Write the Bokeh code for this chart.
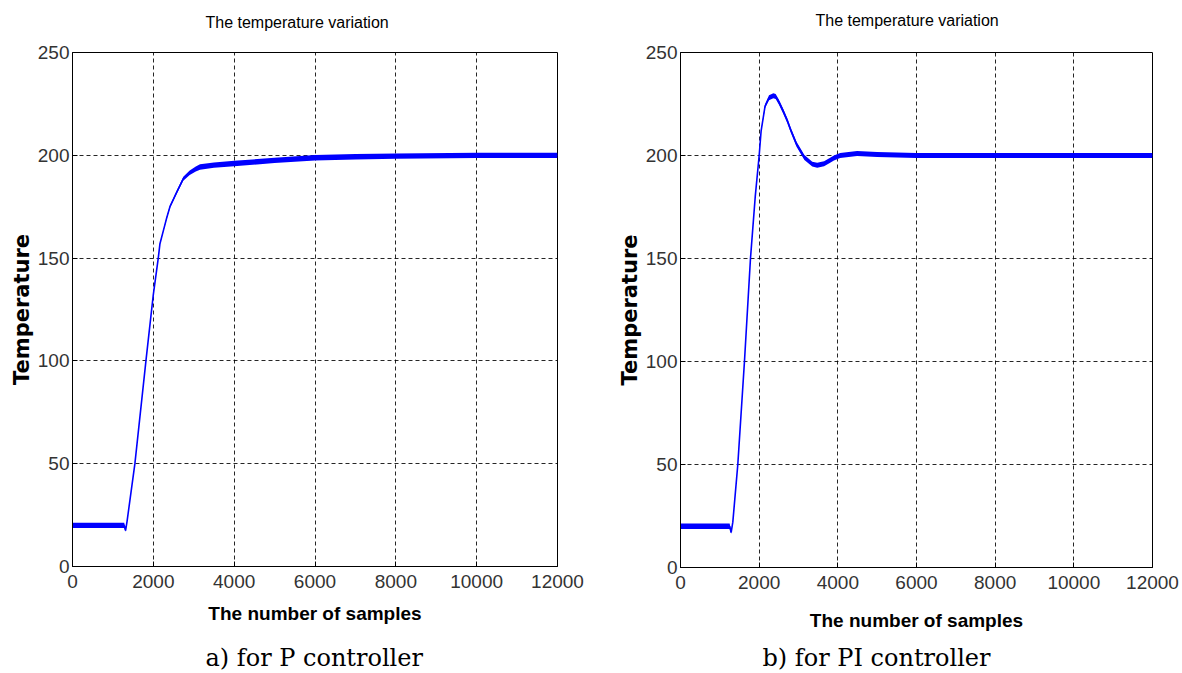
from bokeh.plotting import figure
from bokeh.models import Range1d, Label, FixedTicker
from bokeh.layouts import row, column
from bokeh.embed import file_html
from bokeh.resources import INLINE
import numpy as np

# ---------------- data ----------------
x_ticks = [0, 2000, 4000, 6000, 8000, 10000, 12000]
y_ticks = [0, 50, 100, 150, 200, 250]

# a) P controller
p_x = [0, 1280, 1313, 1350, 1544, 1817, 1998, 2122, 2164, 2250, 2330, 2411, 2577,
       2741, 2900, 3050, 3155, 3500, 4000, 5000, 6000, 7000, 8000, 10000, 12000]
p_y = [20, 20, 17.5, 22, 50, 100, 132, 150, 157, 163.5, 169.5, 175, 182,
       188.6, 191.5, 193.3, 194.3, 195.2, 196, 197.5, 198.8, 199.3, 199.6, 200, 200]
p_noise = [1.3, 1.3, 0.6, 0, 0, 0, 0, 0, 0.2, 0.3, 0.5, 0.6, 0.8,
           1.0, 1.1, 1.2, 1.3, 1.3, 1.3, 1.3, 1.3, 1.3, 1.3, 1.3, 1.3]

# b) PI controller
pi_x = [0, 1250, 1288, 1330, 1457, 1626, 1779, 1900, 2000, 2050, 2150, 2250, 2360,
        2420, 2500, 2600, 2714, 2800, 2950, 3150, 3350, 3475, 3650, 3805, 3900,
        4059, 4490, 5000, 6000, 12000]
pi_y = [20, 20, 17, 22, 50, 100, 150, 180, 200, 212, 224, 228, 229,
        228.6, 226, 222, 217, 212.5, 205.5, 199, 195.8, 195.3, 196, 197.7, 198.8,
        200, 201, 200.5, 200, 200]
pi_noise = [1.3, 1.3, 0.6, 0, 0, 0, 0, 0, 0, 0.4, 0.9, 1.2, 1.2,
            1.2, 1.2, 1.2, 1.2, 1.2, 1.2, 1.2, 1.2, 1.2, 1.2, 1.2, 1.2,
            1.2, 1.2, 1.2, 1.2, 1.2]

title_text = "The temperature variation"
xlabel_text = "The number of samples"
ylabel_text = "Temperature"
captions = ["a) for P controller", "b) for PI controller"]

SANS = "Liberation Sans"
HEAD_H = 34
FOOT_H = 36
MAIN_H = 673 - HEAD_H - FOOT_H


def text_strip(width, height, left, frame_w, text, x_left_px, cy_from_top, font, size,
               style="normal"):
    # the strip's frame has the same left/right borders as the panel below it,
    # so x data units = pixels from the panel frame's left edge
    right = width - left - frame_w
    s = figure(width=width, height=height, output_backend="svg", toolbar_location=None,
               x_range=Range1d(0, frame_w), y_range=Range1d(0, height),
               x_axis_type=None, y_axis_type=None,
               min_border_left=left, min_border_right=right,
               min_border_top=0, min_border_bottom=0)
    s.outline_line_color = None
    s.xgrid.visible = False
    s.ygrid.visible = False
    s.add_layout(Label(x=x_left_px - left, y=height - cy_from_top, text=text,
                       text_font=font, text_font_size=size, text_font_style=style,
                       text_color="black", text_align="left", text_baseline="middle"))
    return s


def make_main(xs, ys, noise, width, left, frame_w, top, frame_h, xlab_standoff):
    right = width - left - frame_w
    bottom = MAIN_H - top - frame_h
    p = figure(width=width, height=MAIN_H, output_backend="svg", toolbar_location=None,
               x_range=Range1d(0, 12000), y_range=Range1d(0, 250),
               min_border_left=left, min_border_right=right,
               min_border_top=top, min_border_bottom=bottom)
    p.outline_line_color = "black"
    p.outline_line_width = 1

    for ax in (p.xaxis[0], p.yaxis[0]):
        ax.axis_line_color = "black"
        ax.major_tick_in = 5
        ax.major_tick_out = 0
        ax.minor_tick_line_color = None
        ax.major_label_text_font = SANS
        ax.major_label_text_font_size = "19px"
        ax.major_label_text_color = "#333333"
    p.xaxis[0].ticker = FixedTicker(ticks=x_ticks)
    p.yaxis[0].ticker = FixedTicker(ticks=y_ticks)
    p.xaxis[0].major_label_standoff = 8
    p.yaxis[0].major_label_standoff = 3

    p.xaxis[0].axis_label = xlabel_text
    p.xaxis[0].axis_label_text_font = SANS
    p.xaxis[0].axis_label_text_font_size = "19px"
    p.xaxis[0].axis_label_text_font_style = "bold"
    p.xaxis[0].axis_label_text_color = "black"
    p.xaxis[0].axis_label_standoff = xlab_standoff

    p.yaxis[0].axis_label = ylabel_text
    p.yaxis[0].axis_label_text_font = "DejaVu Sans"
    p.yaxis[0].axis_label_text_font_size = "21px"
    p.yaxis[0].axis_label_text_font_style = "bold"
    p.yaxis[0].axis_label_text_color = "black"
    p.yaxis[0].axis_label_standoff = 1

    for g in (p.xgrid[0], p.ygrid[0]):
        g.grid_line_color = "black"
        g.grid_line_alpha = 0.85
        g.grid_line_dash = "4 3"
        g.grid_line_width = 1
    p.xgrid[0].ticker = FixedTicker(ticks=x_ticks)
    p.ygrid[0].ticker = FixedTicker(ticks=y_ticks)

    xa = np.array(xs, dtype=float)
    ya = np.array(ys, dtype=float)
    na = np.array(noise, dtype=float)
    p.varea(x=xa, y1=ya - na, y2=ya + na, fill_color="#0000ff")
    p.line(xa, ya, line_color="#0000ff", line_width=1.6)
    return p


foot_cy = 657 - (673 - FOOT_H)

# left panel (canvas x 0..600), frame 72..557
lw, ll, lf = 600, 72, 485
left_col = column(
    text_strip(lw, HEAD_H, ll, lf, title_text, 205, 22, SANS, "16px"),
    make_main(p_x, p_y, p_noise, lw, ll, lf, 52 - HEAD_H, 514, 12),
    text_strip(lw, FOOT_H, ll, lf, captions[0], 205, foot_cy, "DejaVu Serif", "24px"),
)

# right panel (canvas x 600..1182), frame 680..1152
rw, rl, rf = 582, 80, 472
right_col = column(
    text_strip(rw, HEAD_H, rl, rf, title_text, 815 - 600, 20, SANS, "16px"),
    make_main(pi_x, pi_y, pi_noise, rw, rl, rf, 52 - HEAD_H, 515, 18),
    text_strip(rw, FOOT_H, rl, rf, captions[1], 762 - 600, foot_cy, "DejaVu Serif", "24px"),
)

layout = row(left_col, right_col)
open("out.html", "w").write(file_html(layout, INLINE))
